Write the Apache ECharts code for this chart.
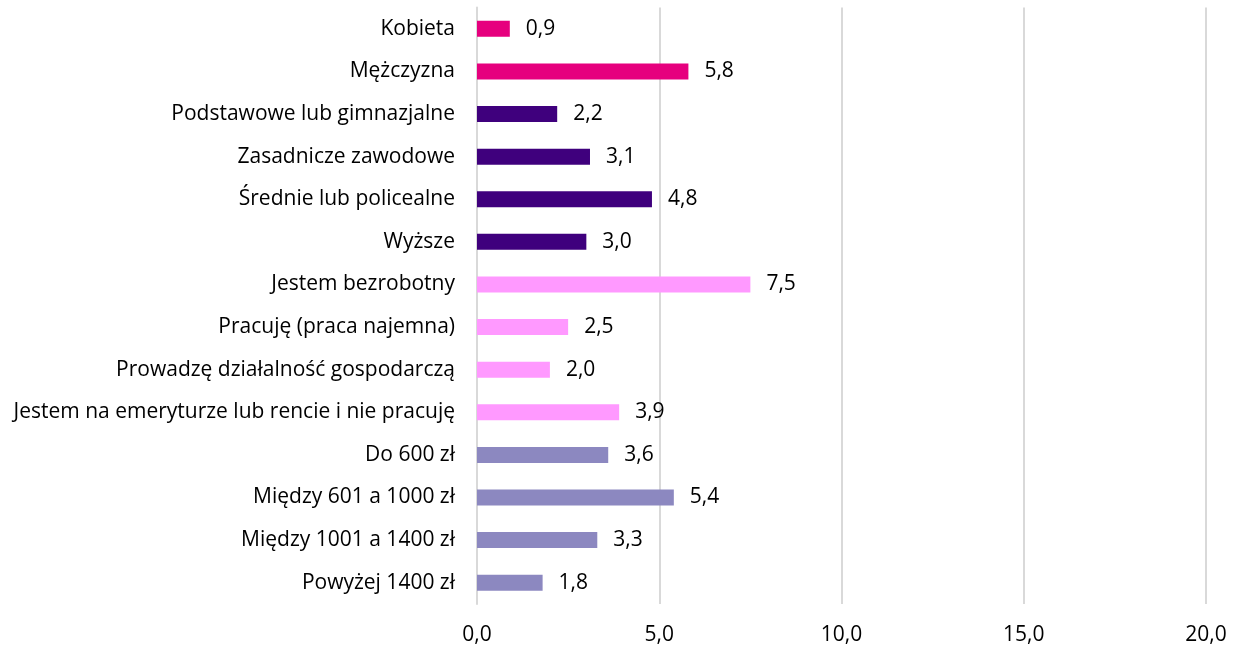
<!DOCTYPE html>
<html><head><meta charset="utf-8">
<script src="https://cdn.jsdelivr.net/npm/echarts@6/dist/echarts.min.js"></script>
<style>html,body{margin:0;padding:0;background:#fff}#c{width:1241px;height:648px}</style>
</head><body><div id="c"></div>
<script>
const categories = ["Kobieta","Mężczyzna","Podstawowe lub gimnazjalne","Zasadnicze zawodowe","Średnie lub policealne","Wyższe","Jestem bezrobotny","Pracuję (praca najemna)","Prowadzę działalność gospodarczą","Jestem na emeryturze lub rencie i nie pracuję","Do 600 zł","Między 601 a 1000 zł","Między 1001 a 1400 zł","Powyżej 1400 zł"];
const values = [0.9,5.8,2.2,3.1,4.8,3.0,7.5,2.5,2.0,3.9,3.6,5.4,3.3,1.8];
const groups = [0,0,1,1,1,1,2,2,2,2,3,3,3,3];
const groupColors = ["#E6007E","#3F007D","#FF99FF","#8C88C0"];
const xTicks = [0,5,10,15,20];
const font = "Open Sans";
const fs = 21;
const chart = echarts.init(document.getElementById('c'));
chart.setOption({
  animation:false,
  grid:{left:477,right:35,top:7.5,bottom:44,containLabel:false},
  xAxis:{type:'value',min:xTicks[0],max:xTicks[xTicks.length-1],interval:xTicks[1]-xTicks[0],
    axisLabel:{formatter:v=>v.toFixed(1).replace('.',','),fontFamily:font,fontSize:fs,color:'#000',margin:21},
    splitLine:{lineStyle:{color:'#D9D9D9',width:2}},axisLine:{show:false},axisTick:{show:false}},
  yAxis:{type:'category',inverse:true,data:categories,
    axisLabel:{fontFamily:font,fontSize:fs,color:'#000',margin:22},
    axisLine:{lineStyle:{color:'#D9D9D9',width:2}},axisTick:{show:false}},
  series:[{type:'bar',barWidth:16,
    data:values.map((v,i)=>({value:v,itemStyle:{color:groupColors[groups[i]]}})),
    label:{show:true,position:'right',distance:16,formatter:p=>p.value.toFixed(1).replace('.',','),fontFamily:font,fontSize:fs,color:'#000'}}]
});
</script></body></html>
